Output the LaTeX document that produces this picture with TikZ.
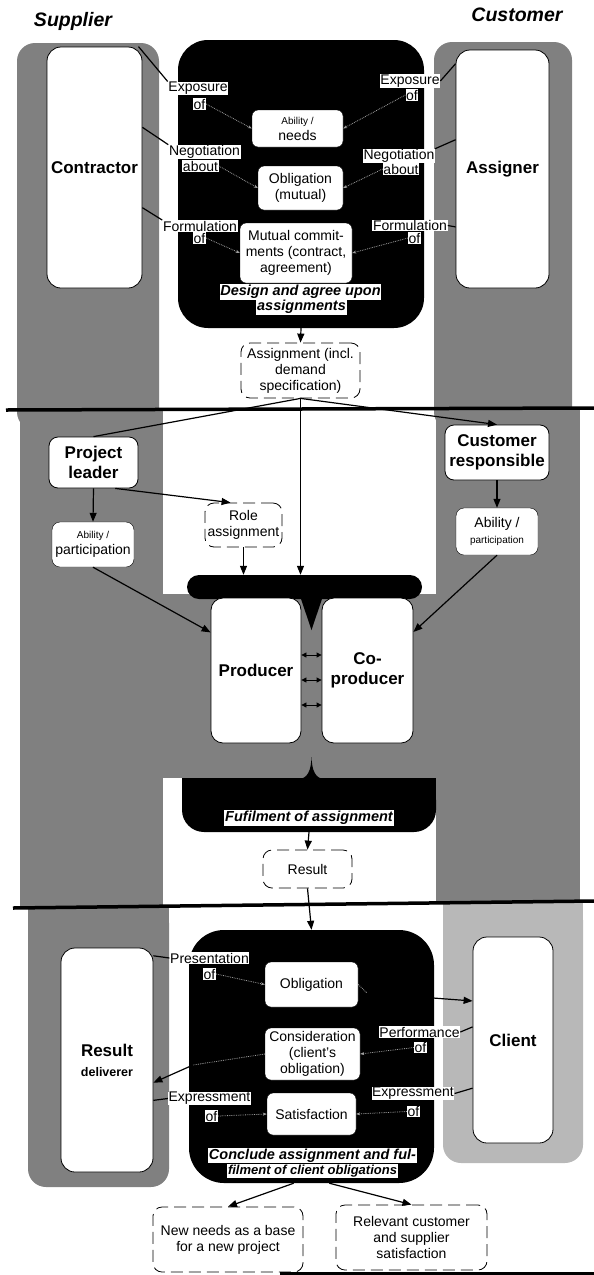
\documentclass[tikz,border=0pt]{standalone}
\usepackage{fontspec}
\setmainfont{Liberation Sans}
\usetikzlibrary{arrows.meta}

\begin{document}
\begin{tikzpicture}[x=1pt,y=-1pt,
    hatch/.style={fill=black!50},
    lighthatch/.style={fill=black!28},
    actor/.style={draw,fill=white,rounded corners=14pt,line width=0.8pt,
      font=\fontsize{17}{20}\selectfont\bfseries,align=center,inner sep=0pt},
    inbox/.style={draw,fill=white,rounded corners=6pt,
      font=\fontsize{14}{16}\selectfont,align=center,inner sep=0pt},
    dashbox/.style={draw,line width=0.8pt,dash pattern=on 12pt off 6pt,fill=white,
      rounded corners=9pt,font=\fontsize{14}{16}\selectfont,align=center,inner sep=0pt},
    blackbox/.style={fill=black,rounded corners=30pt,inner sep=0pt},
    lbl/.style={fill=white,inner sep=0.6pt,font=\fontsize{14}{15}\selectfont},
    headline/.style={fill=white,inner sep=0.8pt,font=\fontsize{14.5}{16}\selectfont\bfseries\itshape},
    sidename/.style={font=\fontsize{19.5}{22}\selectfont\bfseries\itshape},
    link/.style={line width=1.2pt},
    flow/.style={line width=1.2pt,-{Triangle[length=9pt,width=7pt]}},
    hint/.style={densely dotted,line width=0.8pt,gray!75,-{Stealth[length=4pt]}},
    xchg/.style={line width=0.8pt,{Triangle[length=5pt,width=5pt]}-{Triangle[length=5pt,width=5pt]}},
    divider/.style={line width=3.5pt}]

    \useasboundingbox (0,0) rectangle (594,1275);

    \fill[hatch,rounded corners=18pt] (17,43) rectangle (159,430);
    \fill[hatch,rounded corners=18pt] (434,42) rectangle (572,430);
    \fill[hatch,rounded corners=18pt] (28,905) rectangle (169,1187);
    \fill[hatch] (28,905) rectangle (169,960);
    \fill[lighthatch,rounded corners=18pt] (443,902) rectangle (583,1163);
    \fill[lighthatch] (443,902) rectangle (583,960);
    \fill[hatch] (20,409) rectangle (163,907);
    \fill[hatch] (436,409) rectangle (580,903);
    \fill[hatch] (163,594) rectangle (436,778);

    \node[sidename] (supplier) at (73,21) {Supplier};
    \node[sidename] (customer) at (517,15) {Customer};

    \node[actor,minimum width=95pt,minimum height=241pt] (contractor) at (94.5,167.5) {Contractor};
    \node[actor,minimum width=93pt,minimum height=238pt] (assigner) at (502.5,169) {Assigner};

    \node[blackbox,minimum width=246pt,minimum height=288pt] (design) at (301,184) {};
    \node[inbox,minimum width=91pt,minimum height=37pt] (abil) at (297.5,128.5)
      {{\fontsize{10}{12}\selectfont Ability /}\\needs};
    \node[inbox,minimum width=85pt,minimum height=44pt] (oblig) at (300.5,188) {Obligation\\(mutual)};
    \node[inbox,minimum width=112pt,minimum height=60pt] (mutual) at (296,253)
      {Mutual commit-\\ments (contract,\\agreement)};
    \node[headline] (dsgn) at (300.5,292) {Design and agree upon};
    \node[headline] (dsgnb) at (301.5,307) {assignments};

    \node[lbl] (lexp) at (198,88.5) {Exposure};
    \node[lbl] (lexpof) at (199.5,104) {of};
    \node[lbl] (lneg) at (204.5,152) {Negotiation};
    \node[lbl] (lnegof) at (200.5,166) {about};
    \node[lbl] (lform) at (200,226) {Formulation};
    \node[lbl] (lformof) at (199.5,238) {of};
    \node[lbl] (rexp) at (410,81) {Exposure};
    \node[lbl] (rexpof) at (412,95) {of};
    \node[lbl] (rneg) at (399,156) {Negotiation};
    \node[lbl] (rnegof) at (401,169) {about};
    \node[lbl] (rform) at (410,225.5) {Formulation};
    \node[lbl] (rformof) at (414.5,238) {of};

    \node[dashbox,minimum width=119pt,minimum height=55pt] (assign) at (300.5,370.5)
      {Assignment (incl.\\demand\\specification)};

    \node[actor,rounded corners=9pt,minimum width=89pt,minimum height=51pt] (plead) at (93.5,462.5) {Project\\leader};
    \node[actor,rounded corners=9pt,minimum width=104pt,minimum height=55pt] (custr) at (497,452.5) {Customer\\responsible};
    \node[inbox,rounded corners=8pt,minimum width=82pt,minimum height=45pt] (ablL) at (93,544.5)
      {{\fontsize{10}{12}\selectfont Ability /}\\participation};
    \node[inbox,rounded corners=8pt,minimum width=82pt,minimum height=47pt] (ablR) at (497,531.5)
      {Ability /\\{\fontsize{10}{12}\selectfont participation}};
    \node[dashbox,minimum width=77pt,minimum height=44pt] (role) at (243.5,525) {Role\\assignment};

    \node[fill=black,rounded corners=12pt,minimum width=235pt,minimum height=24pt,inner sep=0pt] (pbar) at (304.5,587) {};
    \fill (300,596) -- (323,596) -- (311.5,630) -- cycle;
    \node[actor,rounded corners=12pt,minimum width=90pt,minimum height=145pt] (prod) at (256,670.5) {Producer};
    \node[actor,rounded corners=12pt,minimum width=91pt,minimum height=145pt] (coprod) at (367.5,670.5) {Co-\\producer};

    \node[blackbox,rounded corners=22pt,minimum width=254pt,minimum height=54pt] (fulfil) at (309,805) {};
    \fill (182,778) rectangle (436,800);
    \fill (298,779) .. controls (308,779) and (311,770) .. (311.5,757)
      .. controls (312,770) and (315,779) .. (325,779) -- cycle;
    \node[headline] (fulf) at (309,818) {Fufilment of assignment};

    \node[dashbox,minimum width=89pt,minimum height=38pt] (result) at (307.5,869) {Result};

    \node[blackbox,rounded corners=35pt,minimum width=245pt,minimum height=253pt] (concl) at (311.5,1056.5) {};
    \node[actor,minimum width=92pt,minimum height=224pt] (rdel) at (107,1060)
      {Result\\{\fontsize{12.5}{14}\selectfont deliverer}};
    \node[actor,minimum width=80pt,minimum height=206pt] (client) at (513,1040) {Client};
    \node[inbox,minimum width=93pt,minimum height=45pt] (obl2) at (311.5,984.5) {Obligation};
    \node[inbox,minimum width=95pt,minimum height=52pt] (consid) at (312.5,1054) {Consideration\\(client's\\obligation)};
    \node[inbox,minimum width=89pt,minimum height=42pt] (satis) at (311.5,1114) {Satisfaction};

    \node[lbl] (pres) at (209.5,958) {Presentation};
    \node[lbl] (presof) at (209.5,974) {of};
    \node[lbl] (perf) at (419.5,1032) {Performance};
    \node[lbl] (perfof) at (420.5,1047.5) {of};
    \node[lbl] (lexpr) at (209.5,1098.5) {Expressment};
    \node[lbl] (lexprof) at (211.5,1116) {of};
    \node[lbl] (rexpr) at (413,1093.5) {Expressment};
    \node[lbl] (rexprof) at (413.5,1111.5) {of};
    \node[headline] (concla) at (312.5,1155.5) {Conclude assignment and ful-};
    \node[headline,font=\fontsize{13}{15}\selectfont\bfseries\itshape] (conclb) at (312.5,1171) {filment of client obligations};

    \node[dashbox,minimum width=150pt,minimum height=65pt] (newneeds) at (228,1239.5)
      {New needs as a base\\for a new project};
    \node[dashbox,minimum width=151pt,minimum height=65pt] (relev) at (411.5,1237.5)
      {Relevant customer\\and supplier\\satisfaction};

    \draw[divider] (6,410) -- (594,408);
    \draw[divider] (13,908) -- (594,901);
    \draw[divider] (280,1273.5) -- (594,1273.5);

    \draw[link] (contractor.70) -- (lexp.north west);
    \draw[link] (contractor.40) -- (lneg.north west);
    \draw[link] (contractor.-40) -- (lform.north west);
    \draw[link] (rexp.east) -- (assigner.114);
    \draw[link] (rneg.north east) -- (assigner.148);
    \draw[link] (rform.east) -- (assigner.231);
    \draw[hint] (lexpof.east) -- (abil.west);
    \draw[hint] (rexpof.west) -- (abil.east);
    \draw[hint] (lnegof.east) -- (oblig.west);
    \draw[hint] (rnegof.west) -- (oblig.east);
    \draw[hint] (lformof.east) -- (mutual.west);
    \draw[hint] (rformof.west) -- (mutual.east);

    \draw[flow] (design.south) -- (assign.north);
    \draw[link] (assign.south) -- (plead.north);
    \draw[flow] (assign.south) -- (custr.north);
    \draw[flow] (assign.south) -- (assign.south |- pbar.north);
    \draw[flow] (plead.south) -- (ablL.north);
    \draw[flow] (plead.-50) -- (role.120);
    \draw[flow] (role.south) -- (role.south |- pbar.north);
    \draw[flow] (custr.south) -- (ablR.north);
    \draw[flow] (ablL.south) -- (prod.140);
    \draw[flow] (ablR.south) -- (coprod.40);
    \foreach \yy in {655,680,705}
      \draw[xchg] (prod.east |- 0,\yy) -- (coprod.west |- 0,\yy);

    \draw[flow] (fulfil.south) -- (result.north);
    \draw[flow] (result.south) -- (concl.north);

    \coordinate (oblside) at (367,993);
    \coordinate (conside) at (193,1065);
    \draw[hint,-] (obl2.east) -- (oblside);
    \draw[flow] (oblside) -- (client.136);
    \draw[hint,-] (consid.west) -- (conside);
    \draw[flow] (conside) -- (rdel.-26);
    \draw[link] (rdel.66) -- (pres.west);
    \draw[link] (rdel.-41) -- (lexpr.west);
    \draw[link] (perf.east) -- (client.162);
    \draw[link] (rexpr.east) -- (client.230);
    \draw[hint] (presof.east) -- (obl2.west);
    \draw[hint] (perfof.west) -- (consid.east);
    \draw[hint] (lexprof.east) -- (satis.west);
    \draw[hint] (rexprof.west) -- (satis.east);

    \draw[flow] (concl.262) -- (newneeds.north);
    \draw[flow] (concl.278) -- (relev.north);

\end{tikzpicture}
\end{document}
